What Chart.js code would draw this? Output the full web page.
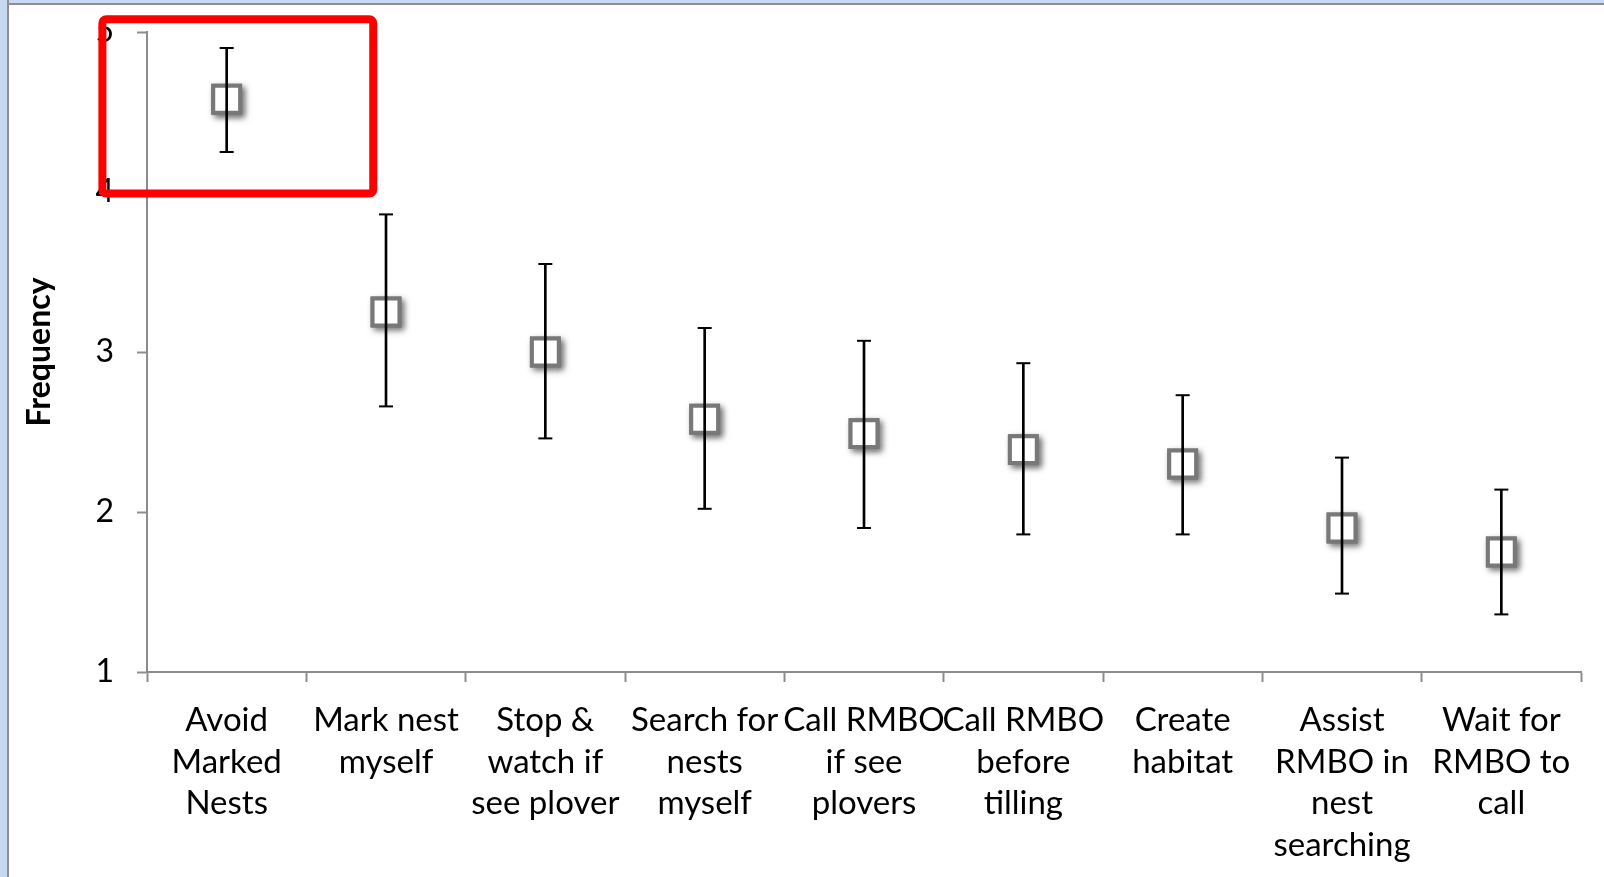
<!DOCTYPE html>
<html>
<head>
<meta charset="utf-8">
<script src="https://cdn.jsdelivr.net/npm/chart.js@4.4.1/dist/chart.umd.min.js"></script>
<style>
  html, body { margin: 0; padding: 0; background: #fff; }
  #wrap { position: relative; width: 1604px; height: 877px; overflow: hidden; }
  #frameLeft { position: absolute; left: 0; top: 0; width: 7px; height: 877px; background: #c6d9f1; border-right: 2px solid #8f8f8f; }
  #frameTop { position: absolute; left: 0; top: 0; width: 1604px; height: 3px; background: #c6d9f1; border-bottom: 2px solid #8f8f8f; }
</style>
</head>
<body>
<div id="wrap">
  <canvas id="freqChart" width="1604" height="877"></canvas>
  <div id="frameTop"></div>
  <div id="frameLeft"></div>
</div>
<script>
// categories (multi-line labels as on the original axis)
const categories = [
    ['Avoid', 'Marked', 'Nests'],
    ['Mark nest', 'myself'],
    ['Stop &', 'watch if', 'see plover'],
    ['Search for', 'nests', 'myself'],
    ['Call RMBO', 'if see', 'plovers'],
    ['Call RMBO', 'before', 'tilling'],
    ['Create', 'habitat'],
    ['Assist', 'RMBO in', 'nest', 'searching'],
    ['Wait for', 'RMBO to', 'call']
];

// mean frequency per action
const meanValues = [4.58, 3.25, 3.00, 2.58, 2.49, 2.39, 2.30, 1.90, 1.75];
// error bar ends
const upperValues = [4.90, 3.86, 3.55, 3.15, 3.07, 2.93, 2.73, 2.34, 2.14];
const lowerValues = [4.25, 2.66, 2.46, 2.02, 1.90, 1.86, 1.86, 1.49, 1.36];

const yTicks = [1, 2, 3, 4, 5];

const FONT = 'Lato';
const AXIS_GREY = '#8c8c8c';
const SHADOW_SET = 4;

// soft drop shadow under the square markers
const markerShadow = {
    id: 'markerShadow',
    beforeDatasetDraw(chart, args) {
        if (args.index !== SHADOW_SET) return;
        const ctx = chart.ctx;
        ctx.save();
        ctx.shadowColor = 'rgba(0,0,0,0.5)';
        ctx.shadowBlur = 6;
        ctx.shadowOffsetX = 3;
        ctx.shadowOffsetY = 3;
    },
    afterDatasetDraw(chart, args) {
        if (args.index !== SHADOW_SET) return;
        chart.ctx.restore();
    }
};

// red highlight box around the first category
const highlightBox = {
    id: 'highlightBox',
    afterDraw(chart) {
        const x = chart.scales.x, y = chart.scales.y;
        const c0 = x.getPixelForValue(0);
        const w = x.getPixelForValue(1) - c0;
        const left = c0 - 0.78 * w;
        const right = c0 + 0.92 * w;
        const top = y.getPixelForValue(5.08);
        const bottom = y.getPixelForValue(3.99);
        const ctx = chart.ctx;
        ctx.save();
        ctx.strokeStyle = '#ff0000';
        ctx.lineWidth = 8;
        ctx.lineJoin = 'round';
        ctx.beginPath();
        ctx.roundRect(left, top, right - left, bottom - top, 4);
        ctx.stroke();
        ctx.restore();
    }
};

const markerBase = {
    type: 'line',
    data: meanValues,
    showLine: false,
    pointStyle: 'rect',
    pointRadius: 19,
    pointBackgroundColor: '#fff',
    pointBorderWidth: 4,
    clip: false
};

const ctx = document.getElementById('freqChart').getContext('2d');
const chart = new Chart(ctx, {
    type: 'bar',
    data: {
        labels: categories,
        datasets: [
            {
                // vertical error bar
                type: 'bar',
                data: lowerValues.map((lo, i) => [lo, upperValues[i]]),
                backgroundColor: '#000',
                barThickness: 2,
                order: 0
            },
            {
                // upper caps
                type: 'line',
                data: upperValues,
                showLine: false,
                pointStyle: 'line',
                pointRadius: 7,
                borderColor: '#000',
                borderWidth: 2,
                order: 0
            },
            {
                // lower caps
                type: 'line',
                data: lowerValues,
                showLine: false,
                pointStyle: 'line',
                pointRadius: 7,
                borderColor: '#000',
                borderWidth: 2,
                order: 0
            },
            Object.assign({}, markerBase, { pointBorderColor: '#787878', order: 1 }),
            Object.assign({}, markerBase, { pointBorderColor: '#787878', order: 2 })
        ]
    },
    options: {
        responsive: false,
        animation: false,
        layout: { padding: { left: 9, right: 20, top: 32, bottom: 0 } },
        plugins: {
            legend: { display: false },
            tooltip: { enabled: false }
        },
        scales: {
            x: {
                offset: true,
                grid: {
                    offset: true,
                    drawOnChartArea: false,
                    drawTicks: true,
                    tickLength: 10,
                    tickWidth: 2,
                    tickColor: AXIS_GREY
                },
                border: { color: AXIS_GREY, width: 2 },
                ticks: {
                    color: '#000',
                    font: { family: FONT, size: 33, lineHeight: 1.27 },
                    maxRotation: 0,
                    minRotation: 0,
                    autoSkip: false,
                    padding: 17
                },
                afterFit(scale) {
                    scale.height = 205;
                    scale.paddingLeft = 0;
                    scale.paddingRight = 0;
                }
            },
            y: {
                min: 1,
                max: 5,
                afterBuildTicks(scale) { scale.ticks = yTicks.map(v => ({ value: v })); },
                grid: {
                    drawOnChartArea: false,
                    drawTicks: true,
                    tickLength: 10,
                    tickWidth: 2,
                    tickColor: AXIS_GREY
                },
                border: { color: AXIS_GREY, width: 2 },
                ticks: {
                    color: '#000',
                    font: { family: FONT, size: 32 },
                    padding: 23
                },
                title: {
                    display: true,
                    text: 'Frequency',
                    color: '#000',
                    font: { family: FONT, size: 32, weight: 'bold' },
                    padding: { top: 11, bottom: 0 }
                },
                afterFit(scale) {
                    scale.width = 138;
                    scale.paddingTop = 0;
                    scale.paddingBottom = 0;
                }
            }
        }
    },
    plugins: [markerShadow, highlightBox]
});
</script>
</body>
</html>
